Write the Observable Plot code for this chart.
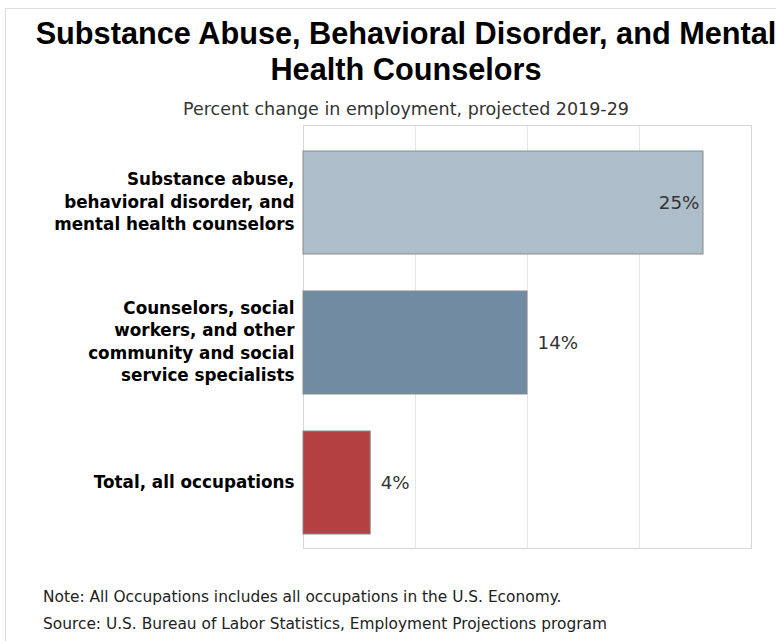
<!DOCTYPE html>
<html>
<head>
<meta charset="utf-8">
<script src="https://cdn.jsdelivr.net/npm/d3@7"></script>
<script src="https://cdn.jsdelivr.net/npm/@observablehq/plot@0.6"></script>
<style>
  html, body { margin: 0; padding: 0; background: #fff; }
  #wrap { position: relative; width: 776px; height: 641px; overflow: hidden; }
  #border { position: absolute; left: 5px; top: 8px; width: 900px; height: 800px; border: 1px solid #dcdcdc; box-sizing: border-box; }
  #title { position: absolute; left: 5px; width: 802px; top: 16px; text-align: center;
           font: bold 30.7px "Liberation Sans", Arial, sans-serif; line-height: 36px; color: #000; }
  #subtitle { position: absolute; left: 5px; width: 802px; top: 99px; text-align: center;
              font: 17.5px "DejaVu Sans", sans-serif; color: #333; line-height: 20px; }
  #notes { position: absolute; left: 43px; top: 584px; font: 15.4px "DejaVu Sans", sans-serif; color: #222; line-height: 27px; }
  #chart { position: absolute; left: 0; top: 0; }
</style>
</head>
<body>
<div id="wrap">
  <div id="border"></div>
  <div id="chart"></div>
  <div id="title">Substance Abuse, Behavioral Disorder, and Mental<br>Health Counselors</div>
  <div id="subtitle">Percent change in employment, projected 2019-29</div>
  <div id="notes">Note: All Occupations includes all occupations in the U.S. Economy.<br>Source: U.S. Bureau of Labor Statistics, Employment Projections program</div>
</div>
<script>
const categories = [
  "Substance abuse,\nbehavioral disorder, and\nmental health counselors",
  "Counselors, social\nworkers, and other\ncommunity and social\nservice specialists",
  "Total, all occupations"
];
const values = [25, 14, 4.2];
const valueLabels = ["25%", "14%", "4%"];
const colors = ["#adbdc9", "#718ca2", "#b44142"];
const gridTicks = [7, 14, 21];

const data = categories.map((c, i) => ({category: c, value: values[i], label: valueLabels[i]}));

const chart = Plot.plot({
  width: 776,
  height: 641,
  marginTop: 125,
  marginBottom: 93,
  marginLeft: 303,
  marginRight: 25,
  style: {background: "transparent"},
  x: {domain: [0, 28], axis: null},
  y: {domain: categories, range: [131.5, 552.5], paddingInner: 0.267, paddingOuter: 0.1335, axis: null},
  color: {domain: categories, range: colors},
  marks: [
    Plot.gridX(gridTicks, {stroke: "#e6e6e6", strokeOpacity: 1}),
    Plot.frame({stroke: "#d6d6d6"}),
    Plot.barX(data, {x: "value", y: "category", fill: "category", stroke: "#8a8a8a", strokeWidth: 1}),
    Plot.text(data, {y: "category", text: "category", frameAnchor: "left", textAnchor: "end", dx: -9, dy: -2.5,
      fontWeight: "bold", fontSize: 16.8, lineHeight: 22.5 / 16.8, fill: "#000", fontFamily: "DejaVu Sans"}),
    Plot.text(data.slice(0, 1), {x: "value", y: "category", text: "label", textAnchor: "end", dx: -4,
      fontSize: 18.3, fill: "#333", fontFamily: "DejaVu Sans"}),
    Plot.text(data.slice(1), {x: "value", y: "category", text: "label", textAnchor: "start", dx: 10,
      fontSize: 18.3, fill: "#333", fontFamily: "DejaVu Sans"})
  ]
});
document.getElementById("chart").appendChild(chart);
</script>
</body>
</html>
